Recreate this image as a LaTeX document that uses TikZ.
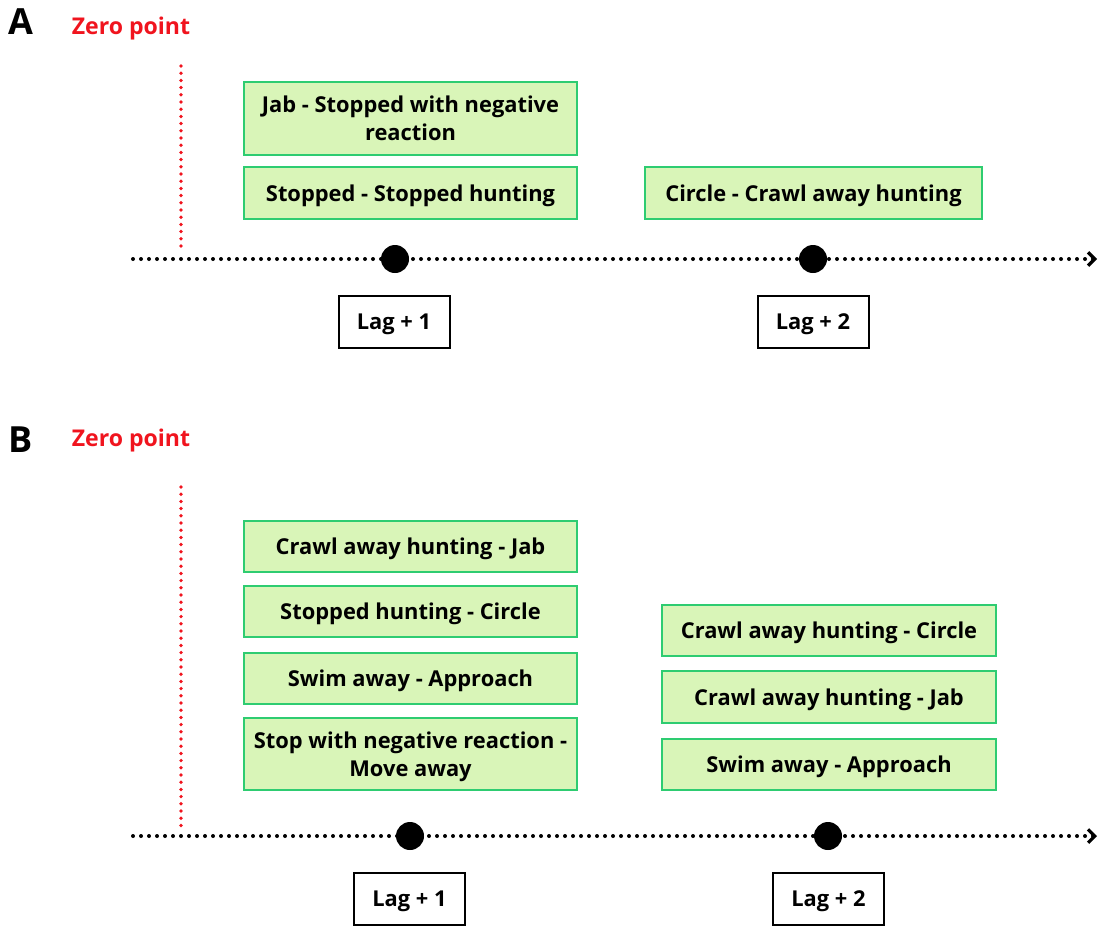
\documentclass[tikz,border=0pt]{standalone}
\usepackage{fontspec}
\setmainfont{Open Sans}
\usetikzlibrary{arrows.meta}
\definecolor{boxfill}{RGB}{217,245,184}
\definecolor{boxline}{RGB}{46,204,113}
\definecolor{zred}{RGB}{240,20,30}
\begin{document}
\begin{tikzpicture}[x=0.75pt,y=-0.75pt,
  every node/.style={font=\fontsize{16.4}{21}\selectfont\bfseries, inner sep=0pt},
  gbox/.style={draw=boxline, fill=boxfill, line width=1.5pt, align=center, text depth=0pt},
  lagbox/.style={draw=black, line width=1.5pt, minimum width=111*0.75pt, minimum height=52*0.75pt, text depth=0pt},
  panel/.style={font=\fontsize{27}{30}\selectfont\bfseries, anchor=center},
  zero/.style={text=zred, font=\fontsize{17.3}{20}\selectfont\bfseries},
  axis/.style={line width=3pt, line cap=round, dash pattern=on 0pt off 6pt, -{Straight Barb[length=5pt,width=10pt,line width=2.4pt]}},
  zline/.style={draw=zred, line width=2.8pt, line cap=round, dash pattern=on 0pt off 5.4pt},
  tick/.style={circle, fill=black, minimum size=21pt}
]
\useasboundingbox (0,0) rectangle (1099,926);

% ---------- Panel A ----------
\node[panel] (A) at (21,22) {A};
\node[zero] (zA) at (131,29) {Zero point};
\coordinate (zAt) at (181,66);
\coordinate (zAb) at (181,251);
\draw[zline] (zAt) -- (zAb);
\coordinate (axAs) at (133,259);
\coordinate (axAe) at (1097,259);
\draw[axis] (axAs) -- (axAe);
\node[tick] (dA1) at (395,259) {};
\node[tick] (dA2) at (813,259) {};
\node[lagbox] (lA1) at (394,322) {Lag + 1};
\node[lagbox] (lA2) at (813,322) {Lag + 2};

\node[gbox, minimum width=333*0.75pt, minimum height=73*0.75pt] (a1) at (410.5,118.5) {Jab - Stopped with negative\\reaction};
\node[gbox, minimum width=333*0.75pt, minimum height=52*0.75pt] (a2) at (410.5,193) {Stopped - Stopped hunting};
\node[gbox, minimum width=337*0.75pt, minimum height=52*0.75pt] (a3) at (813.5,193) {Circle - Crawl away hunting};

% ---------- Panel B ----------
\node[panel] (B) at (21,440) {B};
\node[zero] (zB) at (131,440) {Zero point};
\coordinate (zBt) at (181,487);
\coordinate (zBb) at (181,828);
\draw[zline] (zBt) -- (zBb);
\coordinate (axBs) at (133,836);
\coordinate (axBe) at (1097,836);
\draw[axis] (axBs) -- (axBe);
\node[tick] (dB1) at (410,836) {};
\node[tick] (dB2) at (828,836) {};
\node[lagbox] (lB1) at (409.5,899) {Lag + 1};
\node[lagbox] (lB2) at (828.5,899) {Lag + 2};

\node[gbox, minimum width=333*0.75pt, minimum height=51*0.75pt] (b1) at (410.5,546.5) {Crawl away hunting - Jab};
\node[gbox, minimum width=333*0.75pt, minimum height=51*0.75pt] (b2) at (410.5,611.5) {Stopped hunting - Circle};
\node[gbox, minimum width=333*0.75pt, minimum height=51*0.75pt] (b3) at (410.5,678.5) {Swim away - Approach};
\node[gbox, minimum width=333*0.75pt, minimum height=72*0.75pt] (b4) at (410.5,754) {Stop with negative reaction -\\Move away};

\node[gbox, minimum width=334*0.75pt, minimum height=51*0.75pt] (c1) at (829,630.5) {Crawl away hunting - Circle};
\node[gbox, minimum width=334*0.75pt, minimum height=52*0.75pt] (c2) at (829,697) {Crawl away hunting - Jab};
\node[gbox, minimum width=334*0.75pt, minimum height=51*0.75pt] (c3) at (829,764.5) {Swim away - Approach};
\end{tikzpicture}
\end{document}
